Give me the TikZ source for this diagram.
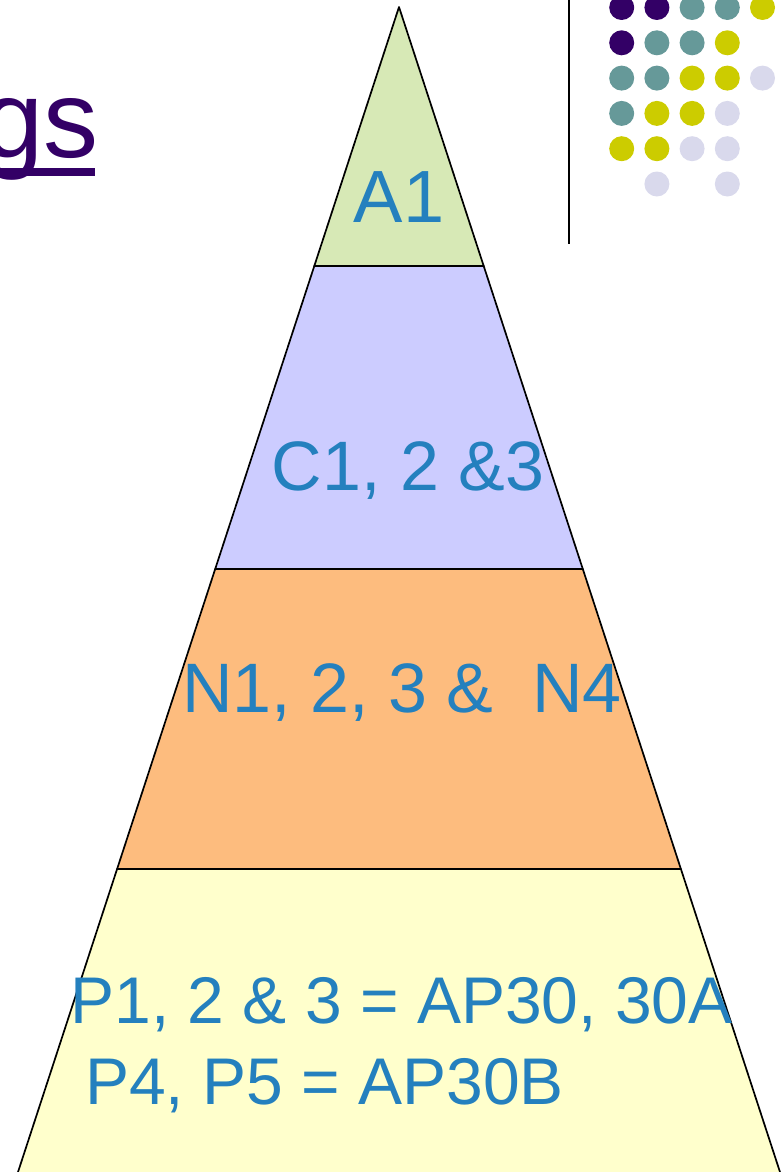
\documentclass[tikz,border=0pt]{standalone}
\usepackage{fontspec}
\setmainfont{Liberation Sans}
\usetikzlibrary{positioning}
\definecolor{textblue}{HTML}{2480BE}
\definecolor{titlepurple}{HTML}{330066}
\definecolor{tierA}{HTML}{D7E9B6}
\definecolor{tierC}{HTML}{CCCCFF}
\definecolor{tierN}{HTML}{FDBC7E}
\definecolor{tierP}{HTML}{FFFFCC}
\definecolor{dotpurple}{HTML}{330066}
\definecolor{dotteal}{HTML}{669999}
\definecolor{dotyellow}{HTML}{CCCC00}
\definecolor{dotlilac}{HTML}{D9D9EC}
\tikzstyle{layer} = [draw=black, line width=1.7pt, line join=round]
\tikzstyle{tierlabel} = [text=textblue, inner sep=0pt, anchor=base, font=\fontsize{70}{80}\selectfont]

\begin{document}
\begin{tikzpicture}[x=1pt, y=-1pt]
\useasboundingbox (0,0) rectangle (781,1172);
\clip (0,0) rectangle (781,1172);

% Pyramide
\coordinate (apex) at (399,7);
\coordinate (l1) at (314.3,266); \coordinate (r1) at (483.7,266);
\coordinate (l2) at (215.2,569); \coordinate (r2) at (582.8,569);
\coordinate (l3) at (117.1,869); \coordinate (r3) at (680.9,869);
\coordinate (l4) at (15.4,1180); \coordinate (r4) at (782.6,1180); % bajo el borde
\filldraw [layer, fill=tierA] (apex) -- (r1) -- (l1) -- cycle;
\filldraw [layer, fill=tierC] (l1) -- (r1) -- (r2) -- (l2) -- cycle;
\filldraw [layer, fill=tierN] (l2) -- (r2) -- (r3) -- (l3) -- cycle;
\filldraw [layer, fill=tierP] (l3) -- (r3) -- (r4) -- (l4) -- cycle;

% Etiquetas
\node (a1) [tierlabel, font=\fontsize{74}{80}\selectfont] at (399,222) {A1};
\node (c123) [tierlabel] at (408,490) {C1, 2 \&3};
\node (n1234) [tierlabel] at (402,712) {N1, 2, 3 \&\ \ N4};
\node (p123) [tierlabel, font=\fontsize{66}{72}\selectfont] at (401.5,1023) {P1, 2 \& 3 = AP30, 30A};
\node (p45) [tierlabel, anchor=base west, font=\fontsize{66}{72}\selectfont] at (85,1104) {P4, P5 = AP30B};

% Titulo
\node (title) [anchor=base east, inner sep=0pt, text=titlepurple, font=\fontsize{110}{120}\selectfont] at (99,157) {gs};
\draw [titlepurple, line width=8pt] (0,172) -- (95,172);
\draw [line width=2pt] (569,0) -- (569,244);

% Puntos
\foreach \i/\j in {1/1,2/1,1/2}
  \fill [dotpurple] ({586.5+35.2*\i},{-27.8+35.3*\j}) circle[radius=12.5pt];
\foreach \i/\j in {3/1,4/1,2/2,3/2,1/3,2/3,1/4}
  \fill [dotteal] ({586.5+35.2*\i},{-27.8+35.3*\j}) circle[radius=12.5pt];
\foreach \i/\j in {5/1,4/2,3/3,4/3,2/4,3/4,1/5,2/5}
  \fill [dotyellow] ({586.5+35.2*\i},{-27.8+35.3*\j}) circle[radius=12.5pt];
\foreach \i/\j in {5/3,4/4,3/5,4/5,2/6,4/6}
  \fill [dotlilac] ({586.5+35.2*\i},{-27.8+35.3*\j}) circle[radius=12.5pt];

\end{tikzpicture}
\end{document}
